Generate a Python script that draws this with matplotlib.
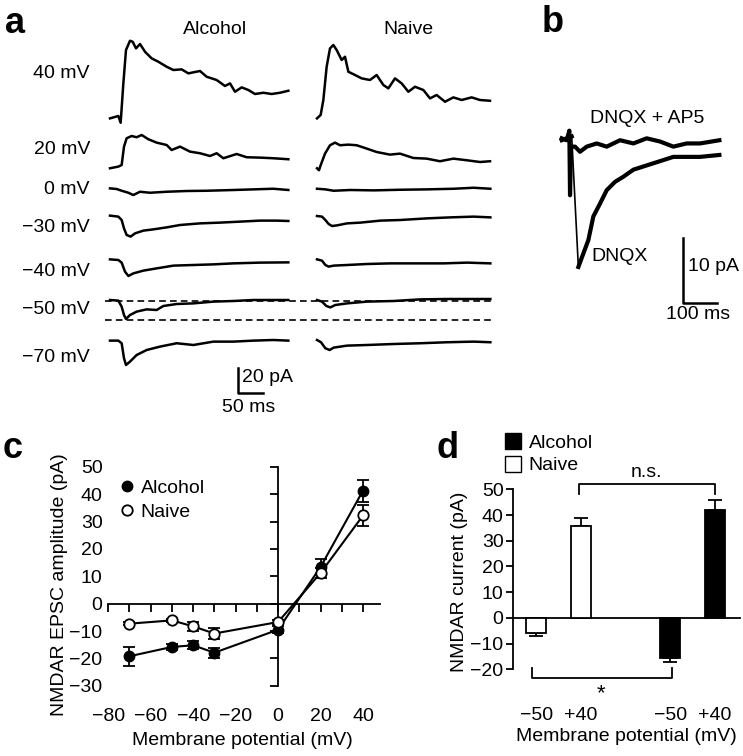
import numpy as np
import matplotlib.pyplot as plt
from matplotlib.lines import Line2D
from matplotlib.patches import Patch

plt.rcParams['font.family'] = ['Liberation Sans', 'DejaVu Sans']
plt.rcParams['font.size'] = 14

W, H = 743, 756

# ---- panel a: example traces, (time ms, current pA)
row_labels = ['40 mV', '20 mV', '0 mV', '\u221230 mV', '\u221240 mV', '\u221250 mV', '\u221270 mV']

alc_p40 = [(0, -0.8), (16.7, 1.1), (21.3, -4.3), (26.7, 27.2), (32, 53.9), (40, 61.3), (45.3, 60.5),
           (52, 55.2), (60, 58.7), (70, 52.5), (83.3, 47.2), (96.7, 44.5), (113.3, 40.5), (126.7, 37.9),
           (143.3, 38.4), (156.7, 35.2), (180, 37.1), (193.3, 32.5), (213.3, 29.9), (230, 25.1),
           (240, 27.2), (250, 20.5), (263.3, 24), (276.7, 21.9), (290, 18.7), (306.7, 19.7),
           (323.3, 18.7), (340, 19.7), (356.7, 21.3)]
nai_p40 = [(0, -0.8), (7.3, 1.9), (12.7, 13.9), (19.3, 40.5), (26, 55.2), (32.7, 57.9), (39.3, 53.9),
           (49.3, 45.9), (56, 48.5), (62.7, 36.5), (76, 33.9), (89.3, 31.2), (106, 29.9), (119.3, 33.9),
           (132.7, 25.9), (142.7, 23.2), (156, 31.2), (169.3, 27.2), (182.7, 20.5), (196, 24.5),
           (212.7, 21.9), (226, 15.2), (239.3, 17.9), (256, 12.5), (272.7, 16), (289.3, 13.9),
           (309.3, 16), (326, 13.9), (346, 13.3)]
alc_p20 = [(0, -0.5), (16.7, 0.8), (23.3, 2.1), (28, 16.8), (33.3, 23.5), (43.3, 25.3), (53.3, 24.3),
           (63.3, 26.1), (76.7, 22.7), (93.3, 20), (113.3, 18.1), (123.3, 14.1), (140, 16.8),
           (160, 12.8), (180, 11.5), (200, 9.3), (213.3, 11.5), (226.7, 7.5), (253.3, 10.9),
           (273.3, 8.3), (300, 8), (326.7, 7.5), (356.7, 6.7)]
nai_p20 = [(0, -0.5), (4, -2.1), (7.3, 1.9), (16, 11.2), (26, 17.9), (36, 20), (46, 17.9), (62.7, 18.4),
           (79.3, 17.9), (96, 15.7), (119.3, 12.5), (146, 10.4), (166, 11.2), (192.7, 7.7),
           (219.3, 7.2), (246, 5.1), (272.7, 7.2), (299.3, 5.9), (326, 4.5), (346, 5.1)]
alc_0 = [(0, 0), (13.3, -0.5), (23.3, -1.9), (36.7, -3.5), (46.7, -5.3), (60, -2.7), (80, -3.5),
         (113.3, -2.7), (153.3, -2.1), (193.3, -1.9), (246.7, -1.3), (286.7, -0.8), (326.7, -0.3),
         (356.7, -1.3)]
nai_0 = [(0, -0.3), (16.7, -0.8), (33.3, -1.9), (66.7, -1.3), (113.3, -1.6), (166.7, -1.1),
         (220, -0.8), (273.3, -0.3), (313.3, 0.5), (346.7, -0.3)]
alc_m30 = [(0, 0.3), (16.7, -0.5), (23.3, -3.2), (28, -9.9), (33.3, -15.2), (41.3, -16.5), (50, -13.9),
           (66.7, -11.7), (86.7, -10.7), (113.3, -9.1), (140, -7.2), (180, -5.9), (220, -5.3),
           (260, -4.5), (300, -3.7), (333.3, -3.7), (356.7, -4)]
nai_m30 = [(0, 0), (10, -0.5), (16.7, -3.2), (23.3, -6.4), (30, -8), (40, -7.5), (60, -5.9),
           (86.7, -5.3), (126.7, -3.7), (166.7, -3.2), (220, -1.9), (266.7, -1.1), (313.3, -0.5),
           (346.7, -1.1)]
alc_m40 = [(0, 0.5), (16.7, 0), (23.3, -2.1), (30, -9.3), (36.7, -12.8), (46.7, -10.7), (66.7, -8.5),
           (93.3, -6.7), (126.7, -4.5), (166.7, -4), (206.7, -3.5), (246.7, -2.7), (300, -2.1),
           (356.7, -1.9)]
nai_m40 = [(0, 0.5), (10, -0.5), (16.7, -4), (23.3, -5.3), (33.3, -4.5), (60, -4), (100, -3.2),
           (146.7, -2.7), (200, -2.7), (253.3, -2.7), (300, -2.1), (346.7, -2.7)]
alc_m50 = [(0, 0.8), (16.7, 0.3), (23.3, -4.5), (28, -11.2), (32, -14.4), (40, -11.2), (53.3, -8.5),
           (73.3, -6.7), (93.3, -7.2), (106.7, -4), (133.3, -2.4), (166.7, -1.9), (206.7, -0.5),
           (246.7, 0), (286.7, 0.8), (326.7, 0.8), (356.7, 0.8)]
nai_m50 = [(0, 0.8), (10, -0.5), (18.7, -4), (26.7, -5.1), (36.7, -3.2), (60, -1.9), (100, -0.5),
           (153.3, 0), (206.7, 1.3), (260, 1.6), (313.3, 1.6), (346.7, 1.6)]
alc_m70 = [(0, 0.8), (16.7, 0.8), (23.3, -1.3), (28, -13.3), (32, -18.7), (40, -16), (53.3, -10.7),
           (73.3, -6.7), (100, -4), (133.3, -1.3), (166.7, -2.7), (206.7, 0), (246.7, 0),
           (286.7, 0.8), (326.7, 1.3), (356.7, 0.8)]
nai_m70 = [(0, 1.3), (8, -0.5), (16.7, -5.3), (25.3, -6.7), (33.3, -4.8), (60, -3.2), (100, -2.7),
           (153.3, -1.9), (206.7, -1.3), (260, -0.5), (313.3, 0), (346.7, -0.5)]

alc_traces = [alc_p40, alc_p20, alc_0, alc_m30, alc_m40, alc_m50, alc_m70]
nai_traces = [nai_p40, nai_p20, nai_0, nai_m30, nai_m40, nai_m50, nai_m70]

# ---- panel b: DNQX / DNQX + AP5 traces (ms, pA)
dnqx_ap5 = [(0, 0), (14.7, -0.3), (22.5, 1.2), (24.5, -8.9), (27.5, -1.3), (39.2, -1.3), (53.9, -2.1),
            (73.5, -1.3), (102.9, -0.8), (132.4, -1.3), (171.6, -0.3), (210.8, -0.8), (250, 0),
            (289.2, -0.5), (328.4, -1.3), (367.6, -0.8), (406.9, -0.8), (463.7, -0.3)]
dnqx = [(0, -0.3), (29.4, 0.3), (49, -20.1), (63.7, -18), (78.4, -15.9), (93.1, -12.2), (112.7, -10.2),
        (132.4, -8.1), (156.9, -6.8), (181.4, -6), (210.8, -4.9), (240.2, -4.4), (269.6, -3.9),
        (299, -3.4), (328.4, -2.9), (367.6, -2.9), (406.9, -2.9), (463.7, -2.6)]

# ---- panel c: I-V relation
volts_c = [-70, -50, -40, -30, 0, 20, 40]
alc_c = [-19.2, -15.8, -15.2, -17.9, -9.5, 13.4, 41.3]
alc_c_err = [3.5, 1.0, 1.5, 1.8, 1.2, 2.8, 4.0]
nai_c = [-7.3, -6.1, -8.3, -10.9, -6.7, 11.2, 32.2]
nai_c_err = [0.6, 0.5, 1.5, 2.0, 0.8, 2.0, 4.0]

# ---- panel d: bars
d_labels = ['\u221250', '+40', '\u221250', '+40']
d_group = ['Naive', 'Naive', 'Alcohol', 'Alcohol']
d_vals = [-5.8, 35.6, -15.6, 41.9]
d_err = [1.3, 3.3, 1.5, 3.9]


def rect(x0, y0, x1, y1):
    return [x0 / W, 1 - y1 / H, (x1 - x0) / W, (y1 - y0) / H]


fig = plt.figure(figsize=(W / 100, H / 100), dpi=100)

# ---------------- panel a
ax = fig.add_axes(rect(30, 25, 500, 415))
ax.set_xlim(-140, 800)
ax.set_ylim(-12, 300)
ax.axis('off')
row_offset = [226.1, 185.9, 169.3, 147.2, 112, 79.2, 46.7]
label_y = [261.6, 200, 168, 137.6, 102.4, 72, 34.4]
alc_t0, nai_t0 = 20, 434
for k in range(len(row_labels)):
    t, i = np.array(alc_traces[k]).T
    ax.plot(alc_t0 + t, row_offset[k] + i, color='black', lw=1.8)
    t, i = np.array(nai_traces[k]).T
    ax.plot(nai_t0 + t, row_offset[k] + i, color='black', lw=1.8)
    ax.text(-20, label_y[k], row_labels[k], ha='right', va='center')
# dashed reference lines for -50 mV row
ax.plot([10, 786], [79.2, 79.2], color='black', lw=1.2, ls=(0, (4, 2.5)))
ax.plot([10, 786], [64, 64], color='black', lw=1.2, ls=(0, (4, 2.5)))
ax.text(230, 296, 'Alcohol', ha='center', va='center')
ax.text(616, 296, 'Naive', ha='center', va='center')
# scale bar
ax.plot([276, 276, 326], [25.6, 5.6, 5.6], color='black', lw=1.8)
ax.text(285, 18, '20 pA', ha='left', va='center')
ax.text(298, -6.4, '50 ms', ha='center', va='center')

# ---------------- panel b
axb = fig.add_axes(rect(540, 90, 743, 330))
axb.set_xlim(-63.8, 533.2)
axb.set_ylim(-29.95, 7.55)
axb.axis('off')
t, i = np.array(dnqx).T
axb.plot(t[:2], i[:2], color='black', lw=3.0)
axb.plot(t[1:3], i[1:3], color='black', lw=1.2)
axb.plot(t[2:], i[2:], color='black', lw=3.0)
t, i = np.array(dnqx_ap5).T
axb.plot(t, i, color='black', lw=3.0)
axb.plot([355.6, 355.6, 455.6], [-15.6, -25.7, -25.7], color='black', lw=1.8)
axb.text(370, -20.1, '10 pA', ha='left', va='center')
axb.text(401, -27.6, '100 ms', ha='center', va='center')
axb.text(250, 3.1, 'DNQX + AP5', ha='center', va='center')
axb.text(88, -18.5, 'DNQX', ha='left', va='center')

# ---------------- panel c
axc = fig.add_axes(rect(104, 464, 380, 705))
axc.errorbar(volts_c, alc_c, yerr=alc_c_err, color='black', marker='o', ms=7.5,
             mfc='black', mec='black', lw=1.5, capsize=4, capthick=1.3, elinewidth=1.3,
             label='Alcohol', zorder=3)
axc.errorbar(volts_c, nai_c, yerr=nai_c_err, color='black', marker='o', ms=7.5,
             mfc='white', mec='black', mew=1.3, lw=1.5, capsize=4, capthick=1.3, elinewidth=1.3,
             label='Naive', zorder=4)
axc.set_xlim(-82, 48)
axc.set_ylim(-37, 51)
axc.spines['bottom'].set_visible(False)
axc.spines['left'].set_visible(False)
axc.spines['top'].set_position(('data', 0))
axc.spines['top'].set_bounds(-80, 48)
axc.spines['right'].set_position(('data', 0))
axc.spines['right'].set_bounds(-30, 50)
for s in ['top', 'right']:
    axc.spines[s].set_linewidth(1.3)
axc.set_xticks(np.arange(-80, 41, 20))
axc.set_xticks(np.arange(-80, 41, 10), minor=True)
axc.set_yticks(np.arange(-30, 51, 10))
axc.tick_params(axis='x', which='both', bottom=False, top=True, labelbottom=True, labeltop=False,
                direction='in', length=6, width=1.3, pad=2)
axc.tick_params(axis='y', left=False, right=True, labelleft=True, labelright=False,
                direction='in', length=6, width=1.3, pad=1)
axc.set_xlabel('Membrane potential (mV)', labelpad=5)
axc.set_ylabel('NMDAR EPSC amplitude (pA)', labelpad=1)
h = [Line2D([], [], ls='none', marker='o', ms=7.5, mfc='black', mec='black'),
     Line2D([], [], ls='none', marker='o', ms=7.5, mfc='white', mec='black', mew=1.3)]
axc.legend(h, ['Alcohol', 'Naive'], loc='upper left', bbox_to_anchor=(0.055, 0.935), frameon=False,
           handlelength=0.8, handletextpad=0.3, borderpad=0, borderaxespad=0, labelspacing=0.3)

# ---------------- panel d
axd = fig.add_axes(rect(513.3, 463.6, 740, 700.1))
d_pos = [0, 1, 3, 4]
colors = ['white' if g == 'Naive' else 'black' for g in d_group]
lower = [e if v < 0 else 0 for v, e in zip(d_vals, d_err)]
upper = [e if v > 0 else 0 for v, e in zip(d_vals, d_err)]
axd.bar(d_pos, d_vals, width=0.45, color=colors, edgecolor='black', linewidth=1.3, zorder=3)
axd.errorbar(d_pos, d_vals, yerr=[lower, upper], fmt='none', ecolor='black', elinewidth=1.3,
             capsize=5, capthick=1.3, zorder=2)
axd.set_xlim(-0.51, 4.56)
axd.set_ylim(-32, 60)
axd.spines['bottom'].set_visible(False)
axd.spines['right'].set_visible(False)
axd.spines['top'].set_position(('data', 0))
axd.spines['left'].set_bounds(-20, 50)
for s in ['top', 'left']:
    axd.spines[s].set_linewidth(1.3)
axd.set_yticks(np.arange(-20, 51, 10))
axd.set_xticks(d_pos)
axd.set_xticklabels(d_labels)
axd.tick_params(axis='x', bottom=False, top=False, labelbottom=True, labeltop=False, length=0, pad=5)
axd.tick_params(axis='y', direction='out', length=5, width=1.3, pad=2)
axd.set_xlabel('Membrane potential (mV)', labelpad=3)
axd.set_ylabel('NMDAR current (pA)', labelpad=2)
# significance brackets
ns_y, ns_tip = 51.9, 48.2
axd.plot([d_pos[1] - 0.04, d_pos[1] - 0.04, d_pos[3] + 0.01, d_pos[3] + 0.01],
         [ns_tip, ns_y, ns_y, ns_tip], color='black', lw=1.3, clip_on=False)
axd.text(2.47, 56.5, 'n.s.', ha='center', va='center')
st_y, st_tip = -23.3, -19.4
axd.plot([d_pos[0] - 0.09, d_pos[0] - 0.09, d_pos[2] + 0.04, d_pos[2] + 0.04],
         [st_tip, st_y, st_y, st_tip], color='black', lw=1.3, clip_on=False)
axd.text(1.46, -29.5, '*', ha='center', va='center', fontsize=16)
hd = [Patch(facecolor='black', edgecolor='black'), Patch(facecolor='white', edgecolor='black')]
axd.legend(hd, ['Alcohol', 'Naive'], loc='upper left', bbox_to_anchor=(-0.035, 1.13), frameon=False,
           handlelength=0.8, handleheight=0.9, handletextpad=0.4, borderpad=0, borderaxespad=0,
           labelspacing=0.2)

# panel letters
for x, y, s in [(5, 33, 'a'), (542, 32, 'b'), (3, 458, 'c'), (437, 458, 'd')]:
    fig.text(x / W, 1 - y / H, s, fontsize=26, fontweight='bold', va='baseline', ha='left')

fig.savefig('out.png', dpi=100)
